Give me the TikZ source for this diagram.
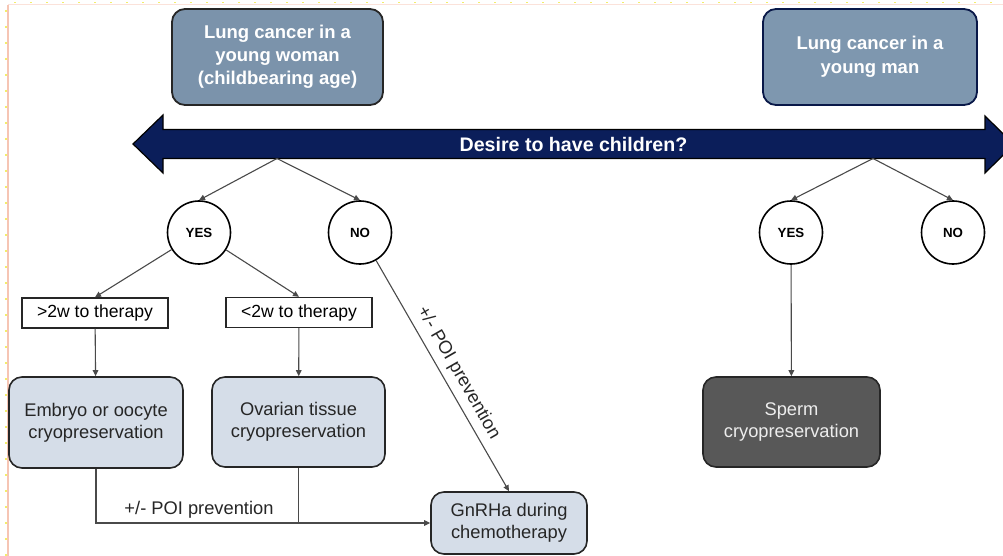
\documentclass[tikz,border=0pt]{standalone}
\usepackage{fontspec}
\setmainfont{Liberation Sans}
\usetikzlibrary{arrows.meta}

\definecolor{steel}{HTML}{7B93AB}
\definecolor{steelR}{HTML}{7E97AF}
\definecolor{navyfill}{HTML}{0B1E5A}
\definecolor{paleblue}{HTML}{D5DDE8}
\definecolor{darkgrey}{HTML}{585858}
\definecolor{linegrey}{HTML}{4A4A4A}
\definecolor{edgeorange}{HTML}{F4B29C}
\definecolor{edgepink}{HTML}{FBE2DA}
\definecolor{dotyellow}{HTML}{F2EE6A}

\tikzset{
  titlebox/.style={draw=black!85, line width=1.8pt, fill=steel, rounded corners=13pt,
    text=white, align=center, inner sep=0pt,
    font=\fontsize{18.5}{23}\selectfont\bfseries},
  choice/.style={circle, draw=black, line width=1.6pt, fill=white, minimum size=63pt,
    inner sep=0pt, font=\fontsize{13.3}{15}\selectfont\bfseries},
  timing/.style={draw=black!85, line width=1.4pt, fill=white, inner sep=0pt,
    minimum height=30pt, minimum width=146pt, font=\fontsize{17.6}{21}\selectfont},
  option/.style={draw=black!85, line width=1.6pt, fill=paleblue, rounded corners=13pt,
    align=center, inner sep=0pt, text=black!85, font=\fontsize{18.3}{22}\selectfont},
  conn/.style={draw=linegrey, line width=1.1pt, -{Triangle[length=6pt,width=5.5pt]}},
  plain/.style={draw=linegrey, line width=1.1pt},
  lbl/.style={font=\fontsize{18.3}{22}\selectfont, text=black!85, inner sep=2pt}
}

\begin{document}
\begin{tikzpicture}[x=1pt,y=-1pt]
\useasboundingbox (0,0) rectangle (1003,556);
\fill[white] (0,0) rectangle (1003,556);

% thin page edges
\draw[edgepink, line width=1pt] (8,5) -- (1003,5);
\draw[edgeorange, line width=2pt, opacity=0.75] (8,5) -- (8,556);
\draw[dotyellow, line width=1.6pt, dash pattern=on 1.6pt off 14.4pt] (14,2.5) -- (1003,2.5);
\draw[dotyellow, line width=1.6pt, dash pattern=on 1.6pt off 14.4pt] (6,10) -- (6,556);

% patient groups
\node[titlebox, minimum width=211pt, minimum height=96pt] (woman) at (277.5,57)
  {Lung cancer in a\\young woman\\(childbearing age)};
\node[titlebox, draw=navyfill!80!black, fill=steelR, minimum width=214pt, minimum height=96pt,
  font=\fontsize{18.5}{24}\selectfont\bfseries] (man) at (870,57)
  {Lung cancer in a\\young man};

% double-headed question arrow
\filldraw[fill=navyfill, draw=black, line width=1.2pt, line join=miter]
  (133,144) -- (163,115) -- (163,129.5) -- (985,129.5) -- (985,116) -- (1014,144.5)
  -- (985,173) -- (985,158.5) -- (163,158.5) -- (163,173) -- cycle;
\node[text=white, font=\fontsize{19.6}{23}\selectfont\bfseries] (question) at (573.5,144)
  {Desire to have children?};
\coordinate (splitW) at (277,158.5);
\coordinate (splitM) at (873,158.5);

% answers
\node[choice] (yesW) at (199,232.5) {YES};
\node[choice] (noW)  at (360,232.5) {NO};
\node[choice] (yesM) at (791,232.5) {YES};
\node[choice] (noM)  at (953,232.5) {NO};

% time to therapy
\node[timing] (long)  at (95,313)    {>2w to therapy};
\node[timing] (short) at (299,312.5) {<2w to therapy};

% options
\node[option, minimum width=174pt, minimum height=91pt] (embryo)  at (96,422.5)
  {Embryo or oocyte\\cryopreservation};
\node[option, minimum width=173pt, minimum height=90pt] (ovarian) at (298.5,422)
  {Ovarian tissue\\cryopreservation};
\node[option, minimum width=156pt, minimum height=62pt] (gnrha)   at (509,523)
  {GnRHa during\\chemotherapy};
\node[option, fill=darkgrey, text=white!93!black, minimum width=177pt, minimum height=90pt]
  (sperm) at (791.5,422) {Sperm\\cryopreservation};

% connectors
\draw[conn] (splitW) -- (yesW.north);
\draw[conn] (splitW) -- (noW.north);
\draw[conn] (splitM) -- (yesM.north);
\draw[conn] (splitM) -- (noM.north);

\draw[conn] (yesW) -- (long.north);
\draw[conn] (yesW) -- (short.north);
\draw[conn] (long) -- (embryo);
\draw[conn] (short) -- (ovarian);
\draw[conn] (yesM) -- (sperm);

\draw[conn] (noW) -- node[lbl, sloped, above=4pt, pos=0.52] (poiS) {+/- POI prevention} (gnrha.north);
\draw[conn] (embryo.south) |- (gnrha.west);
\draw[plain] (ovarian.south) -- (ovarian.south |- gnrha.west);
\node[lbl] (poiH) at (199,510) {+/- POI prevention};
\end{tikzpicture}
\end{document}
